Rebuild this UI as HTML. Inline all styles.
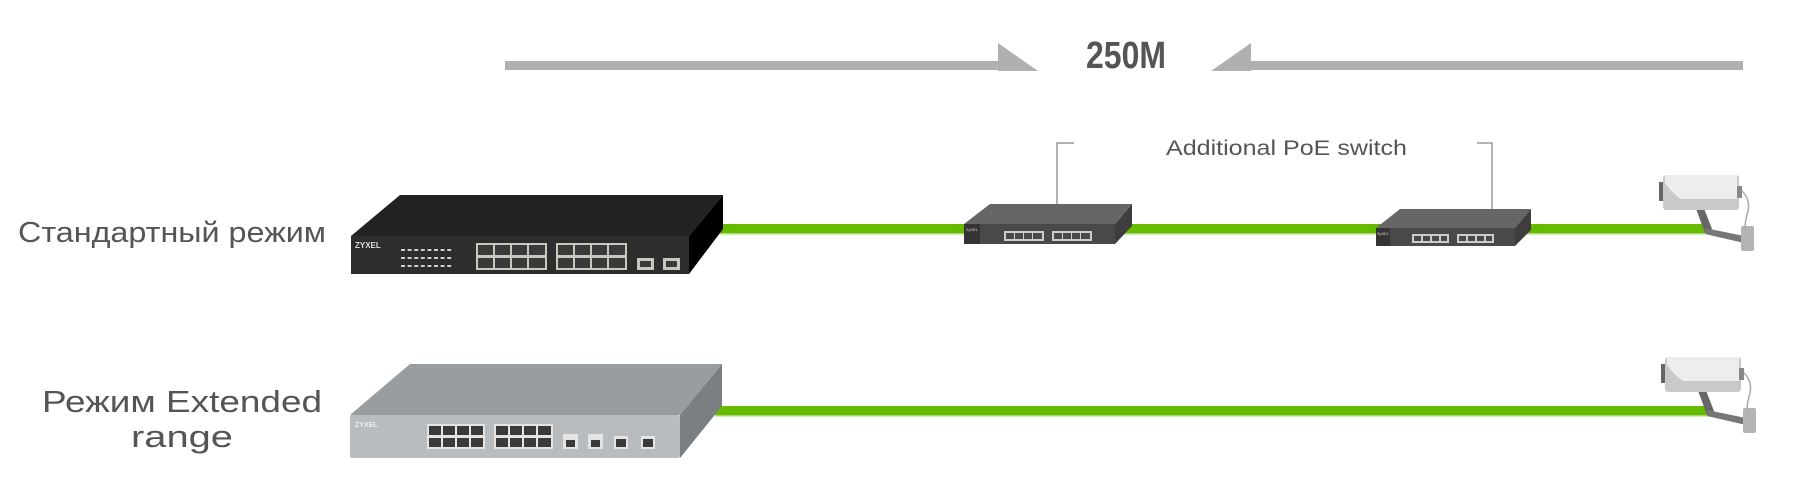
<!DOCTYPE html>
<html><head><meta charset="utf-8"><style>html,body{margin:0;padding:0;background:#fff;width:1810px;height:488px;overflow:hidden}</style></head>
<body>
<svg width="1810" height="488" viewBox="0 0 1810 488" xmlns="http://www.w3.org/2000/svg" font-family="Liberation Sans, sans-serif">
<!-- top distance bar -->
<rect x="505" y="61" width="495" height="9" fill="#b0b0b0"/>
<polygon points="998,43 998,71 1038,71" fill="#b0b0b0"/>
<rect x="1251" y="61" width="492" height="9" fill="#b0b0b0"/>
<polygon points="1251,43 1251,71 1211,71" fill="#b0b0b0"/>
<text x="1086" y="68" font-size="38" font-weight="bold" fill="#555" textLength="80" lengthAdjust="spacingAndGlyphs">250M</text>

<!-- labels -->
<text x="18" y="242" font-size="29" fill="#555" textLength="308" lengthAdjust="spacingAndGlyphs">Стандартный режим</text>
<text x="42" y="412" font-size="31" fill="#555" textLength="280" lengthAdjust="spacingAndGlyphs">Режим Extended</text>
<text x="131" y="447" font-size="31" fill="#555" textLength="102" lengthAdjust="spacingAndGlyphs">range</text>
<text x="1166" y="155" font-size="21" fill="#555" textLength="241" lengthAdjust="spacingAndGlyphs">Additional PoE switch</text>

<!-- leader lines -->
<polyline points="1074,143 1057,143 1057,205" fill="none" stroke="#666" stroke-width="1"/>
<polyline points="1477,143 1492,143 1492,209" fill="none" stroke="#666" stroke-width="1"/>

<!-- green cables -->
<rect x="715" y="224" width="990" height="9" fill="#66bb00"/>
<rect x="715" y="233" width="990" height="1.5" fill="#a8dc70"/>
<rect x="715" y="406" width="995" height="9" fill="#66bb00"/>
<rect x="715" y="415" width="995" height="1.5" fill="#a8dc70"/>

<!-- big black switch -->
<polygon points="351,236 400,195 723,195 689,236" fill="#222"/>
<polygon points="689,236 723,195 723,229 689,274" fill="#000"/>
<rect x="351" y="236" width="338" height="38" fill="#2d2d2d"/>
<text x="355" y="248" font-size="8" font-weight="bold" fill="#ddd">ZYXEL</text>
<g stroke="#ccc" stroke-width="2" stroke-dasharray="4,2.6">
<line x1="401" y1="250" x2="453" y2="250"/>
<line x1="401" y1="258" x2="453" y2="258"/>
<line x1="401" y1="266" x2="453" y2="266"/>
</g>
<g fill="#c8c6bd">
<rect x="476" y="243" width="71" height="27"/>
<rect x="556" y="243" width="71" height="27"/>
<rect x="637" y="258" width="17" height="12"/>
<rect x="663" y="258" width="17" height="12"/>
</g>
<g fill="#3a3a3a">
<rect x="478" y="245" width="15" height="10"/><rect x="495" y="245" width="15" height="10"/><rect x="512" y="245" width="15" height="10"/><rect x="529" y="245" width="16" height="10"/>
<rect x="478" y="258" width="15" height="10"/><rect x="495" y="258" width="15" height="10"/><rect x="512" y="258" width="15" height="10"/><rect x="529" y="258" width="16" height="10"/>
<rect x="558" y="245" width="15" height="10"/><rect x="575" y="245" width="15" height="10"/><rect x="592" y="245" width="15" height="10"/><rect x="609" y="245" width="16" height="10"/>
<rect x="558" y="258" width="15" height="10"/><rect x="575" y="258" width="15" height="10"/><rect x="592" y="258" width="15" height="10"/><rect x="609" y="258" width="16" height="10"/>
<rect x="640" y="261" width="11" height="6"/><rect x="666" y="261" width="11" height="6"/>
</g>

<!-- gray switch -->
<polygon points="350,415 410,364 722,364 680,415" fill="#9a9d9f"/>
<polygon points="680,415 722,364 722,406 680,458" fill="#7c7f81"/>
<rect x="350" y="415" width="330" height="43" rx="2" fill="#b9bcbe"/>
<text x="355" y="427" font-size="7" font-weight="bold" fill="#eee">ZYXEL</text>
<g fill="#e4e4e4">
<rect x="427" y="424" width="58" height="25"/>
<rect x="494" y="424" width="59" height="25"/>
<rect x="563" y="434" width="15" height="15"/><rect x="588" y="434" width="15" height="15"/>
<rect x="614" y="436" width="14" height="13"/><rect x="641" y="436" width="14" height="13"/>
</g>
<g fill="#3a3a3a">
<rect x="429" y="426" width="12" height="9"/><rect x="443" y="426" width="12" height="9"/><rect x="457" y="426" width="12" height="9"/><rect x="471" y="426" width="12" height="9"/>
<rect x="429" y="438" width="12" height="9"/><rect x="443" y="438" width="12" height="9"/><rect x="457" y="438" width="12" height="9"/><rect x="471" y="438" width="12" height="9"/>
<rect x="496" y="426" width="12" height="9"/><rect x="510" y="426" width="12" height="9"/><rect x="524" y="426" width="12" height="9"/><rect x="538" y="426" width="13" height="9"/>
<rect x="496" y="438" width="12" height="9"/><rect x="510" y="438" width="12" height="9"/><rect x="524" y="438" width="12" height="9"/><rect x="538" y="438" width="13" height="9"/>
<rect x="566" y="440" width="9" height="7"/><rect x="591" y="440" width="9" height="7"/><rect x="616" y="439" width="10" height="8"/><rect x="643" y="439" width="10" height="8"/>
</g>

<!-- small switch 1 -->
<polygon points="964,224 990,204 1132,204 1115,224" fill="#666"/>
<polygon points="1115,224 1132,204 1132,226 1115,244" fill="#3f3d3d"/>
<rect x="964" y="224" width="151" height="20" fill="#4a4848"/>
<rect x="964" y="224" width="16" height="20" fill="#353333"/>
<text x="966" y="231" font-size="4" fill="#ddd">ZyXEL</text>
<rect x="1004" y="231" width="40" height="10" fill="#ccc"/><rect x="1052" y="231" width="40" height="10" fill="#ccc"/>
<g fill="#4a4848">
<rect x="1006" y="233" width="8" height="6"/><rect x="1015" y="233" width="8" height="6"/><rect x="1024" y="233" width="8" height="6"/><rect x="1033" y="233" width="9" height="6"/>
<rect x="1054" y="233" width="8" height="6"/><rect x="1063" y="233" width="8" height="6"/><rect x="1072" y="233" width="8" height="6"/><rect x="1081" y="233" width="9" height="6"/>
</g>

<!-- small switch 2 -->
<polygon points="1376,228 1400,209 1531,209 1515,228" fill="#666"/>
<polygon points="1515,228 1531,209 1531,230 1515,246" fill="#3f3d3d"/>
<rect x="1376" y="228" width="139" height="18" fill="#4a4848"/>
<rect x="1376" y="228" width="14" height="18" fill="#353333"/>
<text x="1377" y="235" font-size="4" fill="#ddd">ZyXEL</text>
<rect x="1412" y="234" width="37" height="9" fill="#ccc"/><rect x="1457" y="234" width="37" height="9" fill="#ccc"/>
<g fill="#4a4848">
<rect x="1414" y="236" width="7" height="5"/><rect x="1423" y="236" width="7" height="5"/><rect x="1432" y="236" width="7" height="5"/><rect x="1441" y="236" width="6" height="5"/>
<rect x="1459" y="236" width="7" height="5"/><rect x="1468" y="236" width="7" height="5"/><rect x="1477" y="236" width="7" height="5"/><rect x="1486" y="236" width="6" height="5"/>
</g>

<!-- cameras -->
<g id="cam1">
<polygon points="1695,206 1703,206 1712,229 1705,233" fill="#666"/>
<polygon points="1705,228 1744,236 1744,243 1705,234" fill="#777"/>
<rect x="1741" y="226" width="13" height="25" rx="2" fill="#b4b4b4"/>
<path d="M1741,190 Q1752,200 1747,215 Q1744,226 1746,230" fill="none" stroke="#aaa" stroke-width="1.5"/>
<rect x="1659" y="182" width="6" height="19" fill="#666"/>
<rect x="1663" y="175" width="76" height="35" rx="3" fill="#c8c9cb"/>
<path d="M1665,175 L1737,175 L1737,199 L1681,199 Q1672,193 1665,183 Z" fill="#ecedef"/>
<rect x="1737" y="186" width="5" height="12" fill="#888"/>
</g>
<g transform="translate(2,182)">
<polygon points="1695,206 1703,206 1712,229 1705,233" fill="#666"/>
<polygon points="1705,228 1744,236 1744,243 1705,234" fill="#777"/>
<rect x="1741" y="226" width="13" height="25" rx="2" fill="#b4b4b4"/>
<path d="M1741,190 Q1752,200 1747,215 Q1744,226 1746,230" fill="none" stroke="#aaa" stroke-width="1.5"/>
<rect x="1659" y="182" width="6" height="19" fill="#666"/>
<rect x="1663" y="175" width="76" height="35" rx="3" fill="#c8c9cb"/>
<path d="M1665,175 L1737,175 L1737,199 L1681,199 Q1672,193 1665,183 Z" fill="#ecedef"/>
<rect x="1737" y="186" width="5" height="12" fill="#888"/>
</g>
</svg>
</body></html>
